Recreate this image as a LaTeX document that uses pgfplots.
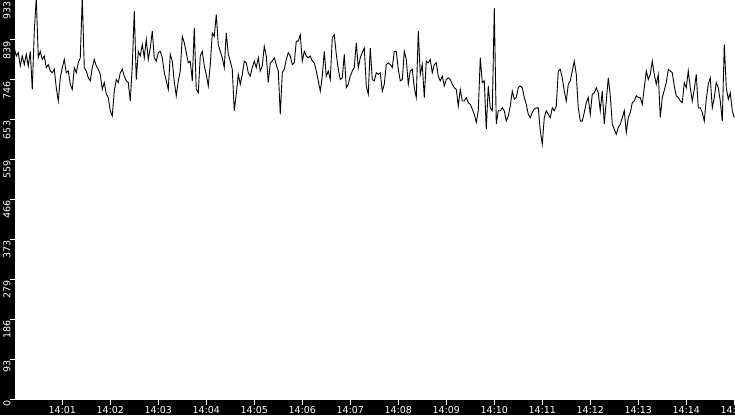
\documentclass[border=0pt]{standalone}
\usepackage{fontspec}
\setmainfont{DejaVu Sans}
\usepackage{pgfplots}
\pgfplotsset{compat=1.18}

% time in seconds after 14:00:00, value
\pgfplotstableread{
t v
0 821
2.5 802
5 810
7.5 779
10 802
12.5 782
15 806
17.5 779
20 813
22.5 724
25 860
27.5 938
30 798
32.5 813
35 794
37.5 802
40 775
42.5 782
45 767
47.5 763
50 771
52.5 728
55 697
57.5 751
60 775
62.5 794
65 763
67.5 767
70 736
72.5 724
75 775
77.5 763
80 786
82.5 798
85 938
87.5 775
90 767
92.5 751
95 744
97.5 775
100 794
102.5 779
105 771
107.5 759
110 724
112.5 740
115 713
117.5 705
120 674
122.5 662
125 720
127.5 747
130 740
132.5 763
135 771
137.5 755
140 744
142.5 740
145 697
147.5 779
150 907
152.5 747
155 813
157.5 802
160 829
162.5 798
165 841
167.5 794
170 821
172.5 860
175 798
177.5 790
180 810
182.5 813
185 798
187.5 763
190 744
192.5 724
195 806
197.5 790
200 742
202.5 709
205 744
207.5 767
210 848
212.5 833
215 810
217.5 786
220 790
222.5 744
225 868
227.5 724
230 716
232.5 802
235 813
237.5 779
240 759
242.5 732
245 782
247.5 856
250 848
252.5 899
255 829
257.5 813
260 798
262.5 775
265 856
267.5 806
270 790
272.5 771
275 674
277.5 713
280 759
282.5 736
285 759
287.5 790
290 786
292.5 763
295 755
297.5 775
300 790
302.5 775
305 798
307.5 767
310 779
312.5 825
315 802
317.5 740
320 786
322.5 790
325 798
327.5 782
330 767
332.5 666
335 763
337.5 771
340 794
342.5 810
345 802
347.5 782
350 786
352.5 837
355 837
357.5 852
360 790
362.5 813
365 802
367.5 798
370 802
372.5 790
375 786
377.5 767
380 744
382.5 720
385 755
387.5 813
390 755
392.5 767
395 747
397.5 845
400 852
402.5 806
405 771
407.5 747
410 751
412.5 806
415 728
417.5 736
420 755
422.5 767
425 775
427.5 833
430 775
432.5 798
435 810
437.5 821
440 732
442.5 713
445 821
447.5 747
450 744
452.5 763
455 759
457.5 763
460 720
462.5 736
465 782
467.5 786
470 782
472.5 775
475 813
477.5 813
480 771
482.5 744
485 747
487.5 813
490 794
492.5 736
495 767
497.5 771
500 728
502.5 705
505 860
507.5 759
510 782
512.5 705
515 790
517.5 786
520 794
522.5 763
525 782
527.5 786
530 755
532.5 744
535 755
537.5 732
540 747
542.5 751
545 747
547.5 736
550 728
552.5 724
555 685
557.5 724
560 697
562.5 697
565 705
567.5 693
570 689
572.5 678
575 666
577.5 647
580 674
582.5 798
585 740
587.5 744
590 631
592.5 732
595 681
597.5 674
600 914
602.5 643
605 674
607.5 674
610 681
612.5 674
615 650
617.5 662
620 685
622.5 720
625 701
627.5 705
630 728
632.5 732
635 728
637.5 705
640 689
642.5 666
645 658
647.5 670
650 678
652.5 681
655 681
657.5 627
660 596
662.5 658
665 674
667.5 666
670 658
672.5 681
675 674
677.5 685
680 767
682.5 771
685 751
687.5 720
690 697
692.5 736
695 744
697.5 767
700 790
702.5 759
705 681
707.5 650
710 650
712.5 670
715 693
717.5 705
720 666
722.5 713
725 716
727.5 728
730 716
732.5 674
735 720
737.5 643
740 697
742.5 751
745 709
747.5 643
750 631
752.5 619
755 635
757.5 643
760 658
762.5 674
765 623
767.5 658
770 670
772.5 693
775 697
777.5 709
780 705
782.5 705
785 689
787.5 728
790 767
792.5 747
795 759
797.5 790
800 759
802.5 736
805 759
807.5 658
810 705
812.5 722
815 740
817.5 771
820 767
822.5 763
825 732
827.5 709
830 705
832.5 697
835 693
837.5 740
840 728
842.5 767
845 728
847.5 697
850 724
852.5 759
855 681
857.5 681
860 670
862.5 650
865 701
867.5 736
870 751
872.5 681
875 705
877.5 740
880 728
882.5 697
885 650
887.5 829
890 728
892.5 701
895 716
897.5 674
900 658
}\series

\begin{document}
\begin{tikzpicture}
\fill[black] (0pt,0pt) rectangle (735pt,415pt);
\begin{axis}[
    at={(15pt,15pt)}, anchor=south west,
    width=720pt, height=400pt, scale only axis,
    xmin=0.9, xmax=900.9, ymin=-2, ymax=933,
    axis background/.style={fill=white},
    axis line style={draw=none},
    tick pos=left, tick align=outside,
    major tick length=5pt,
    tick style={white, line width=1pt},
    xtick={60,120,180,240,300,360,420,480,540,600,660,720,780,840,900},
    xticklabels={14:01,14:02,14:03,14:04,14:05,14:06,14:07,14:08,14:09,14:10,14:11,14:12,14:13,14:14,14:15},
    ytick={0,93.3,186.6,279.9,373.2,466.5,559.8,653.1,746.4,839.7,933},
    yticklabels={0,93,186,279,373,466,559,653,746,839,933},
    every tick label/.append style={text=white, font=\fontsize{9.5}{11}\selectfont, inner sep=1pt},
    xticklabel style={font=\fontsize{9.5}{11}\selectfont},
    yticklabel style={rotate=90, anchor=east, font=\fontsize{9.5}{11}\selectfont},
    yticklabel shift=3pt,
    /pgf/number format/assume math mode=true,
]
\addplot[black, line width=0.9pt, no markers] table[x=t, y=v] {\series};
\end{axis}
\pgfresetboundingbox
\useasboundingbox (0pt,0pt) rectangle (735pt,415pt);
\end{tikzpicture}
\end{document}
